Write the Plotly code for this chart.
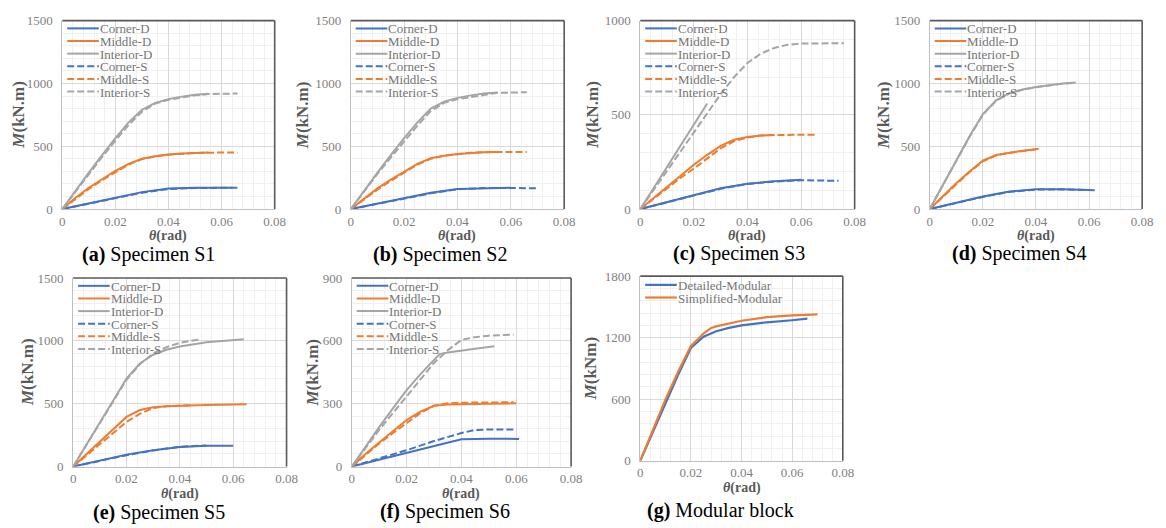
import plotly.graph_objects as go

# ---------------- DATA ----------------
# (a) Specimen S1
a_cornerD_x = [0, 0.01, 0.02, 0.03, 0.04, 0.05, 0.064]
a_cornerD_y = [0, 45, 90, 135, 163, 170, 170]
a_cornerS_x = [0, 0.01, 0.02, 0.03, 0.04, 0.05, 0.066]
a_cornerS_y = [0, 42, 85, 130, 160, 168, 170]
a_middleD_x = [0, 0.005, 0.01, 0.015, 0.02, 0.025, 0.03, 0.035, 0.04, 0.045, 0.05, 0.055]
a_middleD_y = [0, 90, 170, 240, 305, 360, 400, 420, 435, 443, 448, 450]
a_middleS_x = [0, 0.005, 0.01, 0.015, 0.02, 0.025, 0.03, 0.035, 0.04, 0.05, 0.06, 0.066]
a_middleS_y = [0, 80, 160, 230, 295, 355, 398, 420, 433, 447, 450, 450]
a_interiorD_x = [0, 0.005, 0.01, 0.015, 0.02, 0.025, 0.03, 0.035, 0.04, 0.045, 0.05, 0.055]
a_interiorD_y = [0, 150, 290, 430, 565, 690, 790, 845, 875, 895, 910, 918]
a_interiorS_x = [0, 0.005, 0.01, 0.015, 0.02, 0.025, 0.03, 0.035, 0.04, 0.05, 0.055, 0.066]
a_interiorS_y = [0, 140, 280, 415, 545, 670, 775, 840, 870, 905, 915, 920]

# (b) Specimen S2
b_cornerD_x = [0, 0.01, 0.02, 0.03, 0.04, 0.05, 0.06]
b_cornerD_y = [0, 45, 88, 130, 160, 168, 170]
b_cornerS_x = [0, 0.01, 0.02, 0.03, 0.04, 0.05, 0.06, 0.07]
b_cornerS_y = [0, 40, 82, 125, 158, 167, 168, 165]
b_middleD_x = [0, 0.005, 0.01, 0.015, 0.02, 0.025, 0.03, 0.035, 0.04, 0.045, 0.05, 0.055]
b_middleD_y = [0, 85, 165, 235, 300, 360, 405, 425, 438, 447, 452, 455]
b_middleS_x = [0, 0.005, 0.01, 0.015, 0.02, 0.025, 0.03, 0.035, 0.04, 0.045, 0.05, 0.06, 0.066]
b_middleS_y = [0, 80, 155, 225, 290, 355, 400, 425, 437, 448, 453, 455, 455]
b_interiorD_x = [0, 0.005, 0.01, 0.015, 0.02, 0.025, 0.03, 0.035, 0.04, 0.045, 0.05, 0.055]
b_interiorD_y = [0, 150, 290, 430, 565, 690, 800, 855, 885, 905, 920, 928]
b_interiorS_x = [0, 0.005, 0.01, 0.015, 0.02, 0.025, 0.03, 0.035, 0.04, 0.05, 0.055, 0.066]
b_interiorS_y = [0, 140, 280, 410, 540, 665, 780, 845, 875, 910, 925, 930]

# (c) Specimen S3
c_cornerD_x = [0, 0.01, 0.02, 0.03, 0.04, 0.05, 0.06]
c_cornerD_y = [0, 38, 75, 110, 135, 148, 155]
c_cornerS_x = [0, 0.01, 0.02, 0.03, 0.04, 0.05, 0.06, 0.074]
c_cornerS_y = [0, 35, 72, 108, 133, 146, 153, 150]
c_middleD_x = [0, 0.005, 0.01, 0.015, 0.02, 0.025, 0.03, 0.035, 0.04, 0.045, 0.05]
c_middleD_y = [0, 60, 120, 180, 235, 288, 335, 368, 382, 390, 393]
c_middleS_x = [0, 0.005, 0.01, 0.015, 0.02, 0.025, 0.03, 0.035, 0.04, 0.045, 0.05, 0.065]
c_middleS_y = [0, 55, 110, 165, 215, 270, 322, 360, 380, 390, 393, 395]
c_interiorD_x = [0, 0.01, 0.02, 0.025]
c_interiorD_y = [0, 225, 450, 560]
c_interiorS_x = [0, 0.01, 0.02, 0.03, 0.035, 0.04, 0.045, 0.05, 0.055, 0.06, 0.076]
c_interiorS_y = [0, 205, 405, 610, 700, 775, 825, 855, 872, 878, 880]

# (d) Specimen S4
d_cornerD_x = [0, 0.01, 0.02, 0.03, 0.04, 0.05, 0.06]
d_cornerD_y = [0, 50, 100, 140, 157, 157, 152]
d_cornerS_x = [0, 0.01, 0.02, 0.03, 0.04, 0.05, 0.06, 0.063]
d_cornerS_y = [0, 48, 97, 137, 155, 157, 153, 150]
d_middleD_x = [0, 0.005, 0.01, 0.015, 0.02, 0.025, 0.03, 0.035, 0.041]
d_middleD_y = [0, 105, 205, 300, 385, 430, 450, 465, 480]
d_middleS_x = [0, 0.005, 0.01, 0.015, 0.02, 0.025, 0.03, 0.035, 0.041]
d_middleS_y = [0, 100, 200, 295, 380, 428, 448, 463, 478]
d_interiorD_x = [0, 0.005, 0.01, 0.015, 0.02, 0.025, 0.03, 0.035, 0.04, 0.045, 0.05, 0.055]
d_interiorD_y = [0, 195, 390, 580, 755, 865, 922, 952, 972, 988, 1000, 1008]
d_interiorS_x = [0, 0.005, 0.01, 0.015, 0.02, 0.025, 0.03, 0.035, 0.04, 0.045, 0.05, 0.055]
d_interiorS_y = [0, 190, 385, 575, 750, 862, 920, 950, 970, 986, 998, 1006]

# (e) Specimen S5
e_cornerD_x = [0, 0.01, 0.02, 0.03, 0.04, 0.05, 0.06]
e_cornerD_y = [0, 48, 95, 130, 155, 165, 165]
e_cornerS_x = [0, 0.01, 0.02, 0.03, 0.04, 0.05]
e_cornerS_y = [0, 45, 90, 128, 158, 168]
e_middleD_x = [0, 0.005, 0.01, 0.015, 0.02, 0.025, 0.03, 0.035, 0.04, 0.05, 0.065]
e_middleD_y = [0, 100, 200, 300, 395, 450, 472, 480, 485, 490, 495]
e_middleS_x = [0, 0.005, 0.01, 0.015, 0.02, 0.025, 0.03, 0.035, 0.04, 0.045]
e_middleS_y = [0, 90, 180, 270, 355, 420, 465, 480, 487, 490]
e_interiorD_x = [0, 0.005, 0.01, 0.015, 0.02, 0.025, 0.03, 0.035, 0.04, 0.05, 0.064]
e_interiorD_y = [0, 175, 350, 525, 700, 820, 890, 930, 955, 990, 1013]
e_interiorS_x = [0, 0.005, 0.01, 0.015, 0.02, 0.025, 0.03, 0.035, 0.04, 0.047]
e_interiorS_y = [0, 170, 340, 515, 690, 815, 900, 950, 985, 1010]

# (f) Specimen S6
f_cornerD_x = [0, 0.01, 0.02, 0.03, 0.04, 0.05, 0.061]
f_cornerD_y = [0, 32, 64, 98, 130, 133, 132]
f_cornerS_x = [0, 0.01, 0.02, 0.03, 0.04, 0.045, 0.05, 0.059]
f_cornerS_y = [0, 38, 78, 122, 160, 175, 177, 177]
f_middleD_x = [0, 0.005, 0.01, 0.015, 0.02, 0.025, 0.03, 0.035, 0.04, 0.05, 0.06]
f_middleD_y = [0, 60, 115, 170, 222, 262, 290, 296, 298, 300, 302]
f_middleS_x = [0, 0.005, 0.01, 0.015, 0.02, 0.025, 0.03, 0.035, 0.04, 0.05, 0.059]
f_middleS_y = [0, 55, 110, 160, 208, 255, 290, 302, 305, 306, 307]
f_interiorD_x = [0, 0.005, 0.01, 0.015, 0.02, 0.025, 0.03, 0.032, 0.035, 0.04, 0.045, 0.052]
f_interiorD_y = [0, 95, 188, 278, 365, 440, 510, 537, 545, 555, 563, 575]
f_interiorS_x = [0, 0.005, 0.01, 0.015, 0.02, 0.025, 0.03, 0.035, 0.04, 0.045, 0.05, 0.059]
f_interiorS_y = [0, 90, 175, 255, 335, 415, 495, 555, 605, 618, 625, 630]

# (g) Modular block
g_detailed_x = [0, 0.005, 0.01, 0.015, 0.02, 0.025, 0.03, 0.035, 0.04, 0.05, 0.06, 0.066]
g_detailed_y = [0, 280, 560, 840, 1100, 1210, 1262, 1295, 1320, 1350, 1370, 1385]
g_simplified_x = [0, 0.005, 0.01, 0.015, 0.02, 0.025, 0.028, 0.03, 0.04, 0.05, 0.06, 0.07]
g_simplified_y = [0, 300, 600, 870, 1120, 1240, 1295, 1310, 1365, 1400, 1418, 1428]

spec_names = ["Corner-D", "Middle-D", "Interior-D", "Corner-S", "Middle-S", "Interior-S"]
modular_names = ["Detailed-Modular", "Simplified-Modular"]
captions = ["(a)", "(b)", "(c)", "(d)", "(e)", "(f)", "(g)"]
caption_texts = ["Specimen S1", "Specimen S2", "Specimen S3", "Specimen S4",
                 "Specimen S5", "Specimen S6", "Modular block"]
x_ticks = [0, 0.02, 0.04, 0.06, 0.08]

# ---------------- STYLE / LAYOUT ----------------
W, H = 1166, 528
BLUE, ORANGE, GRAY = "#4472C4", "#ED7D31", "#A5A5A5"
SERIF = "Liberation Serif, Times New Roman, serif"


def px(x):
    return x / W


def py(y):
    return 1 - y / H


# panel geometry in pixels
panels = [
    dict(l=60, r=275, t=14, b=208, ymax=1500, dt=500, cx=147, cy=255, mt=-44),
    dict(l=352, r=568, t=14, b=208, ymax=1500, dt=500, cx=442, cy=255, mt=-49),
    dict(l=645, r=862, t=14, b=208, ymax=1000, dt=500, cx=745, cy=254, mt=-48),
    dict(l=938, r=1153, t=14, b=208, ymax=1500, dt=500, cx=1028, cy=254, mt=-46),
    dict(l=71, r=287, t=279, b=473, ymax=1500, dt=500, cx=158, cy=520, mt=-46),
    dict(l=353, r=575, t=279, b=473, ymax=900, dt=300, cx=447, cy=519, mt=-40),
    dict(l=645, r=850, t=277, b=467, ymax=1800, dt=600, cx=726, cy=518, mt=-50),
]

series = [
    [(a_cornerD_x, a_cornerD_y), (a_middleD_x, a_middleD_y), (a_interiorD_x, a_interiorD_y),
     (a_cornerS_x, a_cornerS_y), (a_middleS_x, a_middleS_y), (a_interiorS_x, a_interiorS_y)],
    [(b_cornerD_x, b_cornerD_y), (b_middleD_x, b_middleD_y), (b_interiorD_x, b_interiorD_y),
     (b_cornerS_x, b_cornerS_y), (b_middleS_x, b_middleS_y), (b_interiorS_x, b_interiorS_y)],
    [(c_cornerD_x, c_cornerD_y), (c_middleD_x, c_middleD_y), (c_interiorD_x, c_interiorD_y),
     (c_cornerS_x, c_cornerS_y), (c_middleS_x, c_middleS_y), (c_interiorS_x, c_interiorS_y)],
    [(d_cornerD_x, d_cornerD_y), (d_middleD_x, d_middleD_y), (d_interiorD_x, d_interiorD_y),
     (d_cornerS_x, d_cornerS_y), (d_middleS_x, d_middleS_y), (d_interiorS_x, d_interiorS_y)],
    [(e_cornerD_x, e_cornerD_y), (e_middleD_x, e_middleD_y), (e_interiorD_x, e_interiorD_y),
     (e_cornerS_x, e_cornerS_y), (e_middleS_x, e_middleS_y), (e_interiorS_x, e_interiorS_y)],
    [(f_cornerD_x, f_cornerD_y), (f_middleD_x, f_middleD_y), (f_interiorD_x, f_interiorD_y),
     (f_cornerS_x, f_cornerS_y), (f_middleS_x, f_middleS_y), (f_interiorS_x, f_interiorS_y)],
    [(g_detailed_x, g_detailed_y), (g_simplified_x, g_simplified_y)],
]

spec_colors = [BLUE, ORANGE, GRAY, BLUE, ORANGE, GRAY]
spec_dash = ["solid", "solid", "solid", "7px,3px", "7px,3px", "7px,3px"]

fig = go.Figure()
shapes = []
annotations = []

for i, p in enumerate(panels):
    n = "" if i == 0 else str(i + 1)
    xa, ya = "x" + n, "y" + n
    is_mod = (i == 6)
    names = modular_names if is_mod else spec_names
    colors = [BLUE, ORANGE] if is_mod else spec_colors
    dashes = ["solid", "solid"] if is_mod else spec_dash
    widths = [2.2, 2.2] if is_mod else [2, 2, 2, 2, 2, 2]

    for k, (xs, ys) in enumerate(series[i]):
        fig.add_trace(go.Scatter(
            x=xs, y=ys, mode="lines", name=names[k], showlegend=False,
            line=dict(color=colors[k], width=widths[k], dash=dashes[k]),
            xaxis=xa, yaxis=ya))

    axis_font = dict(family=SERIF, size=13, color="#7f7f7f")
    fig.layout["xaxis" + n] = dict(
        domain=[px(p["l"]), px(p["r"])], anchor=ya, range=[0, 0.08],
        tickvals=x_ticks, showgrid=True, gridcolor="#d9d9d9", gridwidth=1,
        minor=dict(dtick=0.004, showgrid=True, gridcolor="#f0f0f0", gridwidth=1),
        showline=True, linecolor="#bfbfbf", linewidth=1, zeroline=False,
        ticks="", tickfont=axis_font, fixedrange=True)
    fig.layout["yaxis" + n] = dict(
        domain=[py(p["b"]), py(p["t"])], anchor=xa, range=[0, p["ymax"]],
        dtick=p["dt"], showgrid=True, gridcolor="#d9d9d9", gridwidth=1,
        minor=dict(dtick=p["dt"] / 5, showgrid=True, gridcolor="#f0f0f0", gridwidth=1),
        showline=True, linecolor="#bfbfbf", linewidth=1, zeroline=False,
        ticks="", tickfont=axis_font, ticklabelstandoff=6, fixedrange=True)

    # dark top and right frame lines
    shapes.append(dict(type="line", xref=xa + " domain", yref=ya + " domain",
                       x0=0, x1=1, y0=1, y1=1, line=dict(color="#595959", width=1.6)))
    shapes.append(dict(type="line", xref=xa + " domain", yref=ya + " domain",
                       x0=1, x1=1, y0=0, y1=1, line=dict(color="#595959", width=1.6)))

    # legend (inside, top-left)
    nrows = len(names)
    box_r = p["l"] + (142 if is_mod else 102)
    shapes.append(dict(type="rect", xref="paper", yref="paper", layer="between",
                       x0=px(p["l"] + 2), x1=px(box_r), y0=py(p["t"] + 2),
                       y1=py(p["t"] + 15 + 13 * (nrows - 1)),
                       fillcolor="white", line=dict(width=0)))
    for k in range(nrows):
        yy = p["t"] + 8 + 13 * k + (1 if is_mod else 0)
        shapes.append(dict(type="line", xref="paper", yref="paper",
                           x0=px(p["l"] + 5), x1=px(p["l"] + 37), y0=py(yy), y1=py(yy),
                           line=dict(color=colors[k], width=widths[k], dash=dashes[k])))
        annotations.append(dict(text=names[k], xref="paper", yref="paper",
                                x=px(p["l"] + 38), y=py(yy), xanchor="left", yanchor="middle",
                                showarrow=False, height=12, borderpad=0, borderwidth=0,
                                font=dict(family=SERIF, size=13, color="#767676")))

    # axis titles
    annotations.append(dict(text="<b><i>θ</i>(rad)</b>", xref="paper", yref="paper",
                            x=px((p["l"] + p["r"]) / 2), y=py(p["b"] + 28),
                            xanchor="center", yanchor="middle", showarrow=False,
                            font=dict(family=SERIF, size=14, color="#595959")))
    ytitle = "<b><i>M</i>(kNm)</b>" if is_mod else "<b><i>M</i>(kN.m)</b>"
    annotations.append(dict(text=ytitle, xref="paper", yref="paper", textangle=-90,
                            x=px(p["l"] + p["mt"]), y=py((p["t"] + p["b"]) / 2),
                            xanchor="center", yanchor="middle", showarrow=False,
                            font=dict(family=SERIF, size=17, color="#595959")))
    # caption
    annotations.append(dict(text="<b>" + captions[i] + "</b> " + caption_texts[i],
                            xref="paper", yref="paper", x=px(p["cx"]), y=py(p["cy"]),
                            xanchor="center", yanchor="middle", showarrow=False,
                            font=dict(family=SERIF, size=20, color="black")))

fig.update_layout(
    width=W, height=H, margin=dict(l=0, r=0, t=0, b=0),
    paper_bgcolor="white", plot_bgcolor="white",
    showlegend=False, shapes=shapes, annotations=annotations)

fig.write_html("out.html", config={"displayModeBar": False},
               post_script="document.body.style.margin='0';")
